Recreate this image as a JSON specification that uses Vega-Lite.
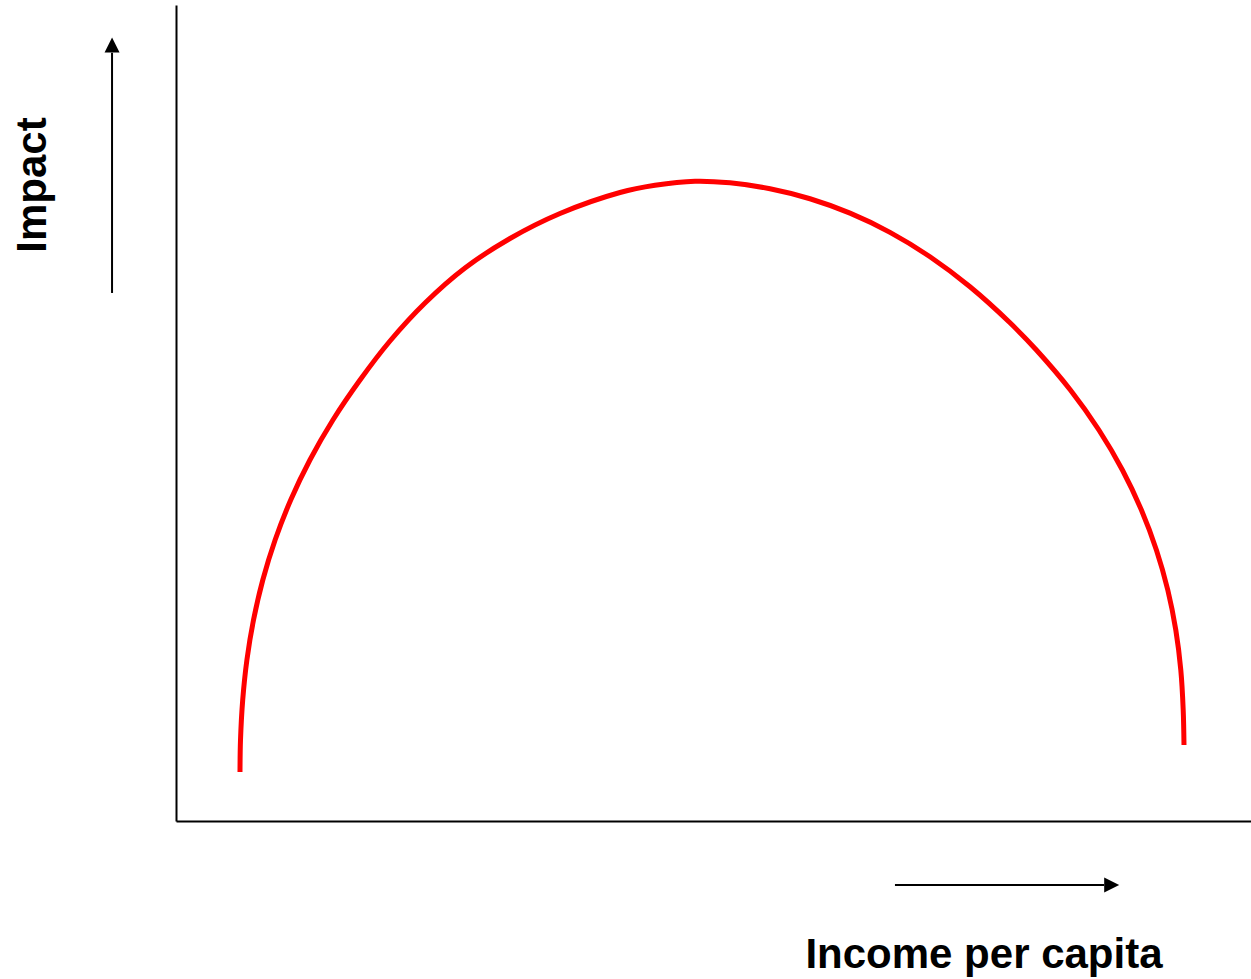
{
  "$schema": "https://vega.github.io/schema/vega-lite/v6.json",
  "width": 1075,
  "height": 816,
  "autosize": {"type": "none"},
  "padding": {"left": 176, "top": 5, "right": 0, "bottom": 158},
  "background": "white",
  "config": {
    "view": {"stroke": null},
    "axis": {"domainColor": "#000000", "domainWidth": 2, "ticks": false, "labels": false, "grid": false}
  },
  "datasets": {
    "curve": [
      {"income": 5.953, "impact": 6.005},
      {"income": 6.000, "impact": 9.926},
      {"income": 6.205, "impact": 14.828},
      {"income": 6.595, "impact": 19.730},
      {"income": 7.209, "impact": 24.632},
      {"income": 8.074, "impact": 29.534},
      {"income": 9.219, "impact": 34.436},
      {"income": 10.670, "impact": 39.338},
      {"income": 12.456, "impact": 44.240},
      {"income": 14.595, "impact": 49.142},
      {"income": 17.116, "impact": 54.044},
      {"income": 19.907, "impact": 58.824},
      {"income": 23.163, "impact": 63.480},
      {"income": 26.884, "impact": 67.770},
      {"income": 31.070, "impact": 71.385},
      {"income": 35.721, "impact": 74.449},
      {"income": 41.302, "impact": 77.022},
      {"income": 44.558, "impact": 77.904},
      {"income": 48.279, "impact": 78.407},
      {"income": 51.535, "impact": 78.211},
      {"income": 55.256, "impact": 77.482},
      {"income": 58.977, "impact": 76.256},
      {"income": 62.698, "impact": 74.491},
      {"income": 66.419, "impact": 72.139},
      {"income": 70.140, "impact": 69.148},
      {"income": 73.860, "impact": 65.466},
      {"income": 77.581, "impact": 61.054},
      {"income": 80.037, "impact": 57.721},
      {"income": 83.200, "impact": 52.819},
      {"income": 85.851, "impact": 47.917},
      {"income": 88.037, "impact": 43.015},
      {"income": 89.805, "impact": 38.113},
      {"income": 91.200, "impact": 33.211},
      {"income": 92.260, "impact": 28.309},
      {"income": 93.005, "impact": 23.407},
      {"income": 93.470, "impact": 18.505},
      {"income": 93.693, "impact": 13.603},
      {"income": 93.767, "impact": 9.314}
    ],
    "arrows": [
      {"xa": -5.95, "ya": 64.71, "xb": -5.95, "yb": 94.15},
      {"xa": 66.88, "ya": -7.84, "xb": 86.33, "yb": -7.84}
    ],
    "heads": [
      {"hx": -5.95, "hy": 95.10, "shape": "M0,-1L-1,1L1,1Z"},
      {"hx": 87.04, "hy": -7.84, "shape": "M1,0L-1,-1L-1,1Z"}
    ],
    "labels": [
      {"lx": 75.16, "ly": -18.01, "text": "Income per capita", "angle": 0},
      {"lx": -12.09, "ly": 77.94, "text": "Impact", "angle": 270}
    ]
  },
  "layer": [
    {
      "data": {"name": "curve"},
      "mark": {"type": "line", "color": "#ff0000", "strokeWidth": 5, "interpolate": "catmull-rom", "strokeCap": "butt", "strokeJoin": "round"},
      "encoding": {
        "x": {"field": "income", "type": "quantitative", "title": null, "scale": {"domain": [0, 100], "nice": false, "zero": false}},
        "y": {"field": "impact", "type": "quantitative", "title": null, "scale": {"domain": [0, 100], "nice": false, "zero": false}}
      }
    },
    {
      "data": {"name": "arrows"},
      "mark": {"type": "rule", "color": "#000000", "strokeWidth": 2},
      "encoding": {
        "x": {"field": "xa", "type": "quantitative", "title": null},
        "y": {"field": "ya", "type": "quantitative", "title": null},
        "x2": {"field": "xb"},
        "y2": {"field": "yb"}
      }
    },
    {
      "data": {"name": "heads"},
      "mark": {"type": "point", "filled": true, "color": "#000000", "opacity": 1, "size": 225, "strokeWidth": 0},
      "encoding": {
        "x": {"field": "hx", "type": "quantitative", "title": null},
        "y": {"field": "hy", "type": "quantitative", "title": null},
        "shape": {"field": "shape", "type": "nominal", "scale": null, "legend": null}
      }
    },
    {
      "data": {"name": "labels"},
      "mark": {"type": "text", "font": "Liberation Sans", "fontWeight": "bold", "fontSize": 42, "color": "#000000", "align": "center", "baseline": "alphabetic"},
      "encoding": {
        "x": {"field": "lx", "type": "quantitative", "title": null},
        "y": {"field": "ly", "type": "quantitative", "title": null},
        "text": {"field": "text"},
        "angle": {"field": "angle", "type": "quantitative", "scale": null}
      }
    }
  ]
}
